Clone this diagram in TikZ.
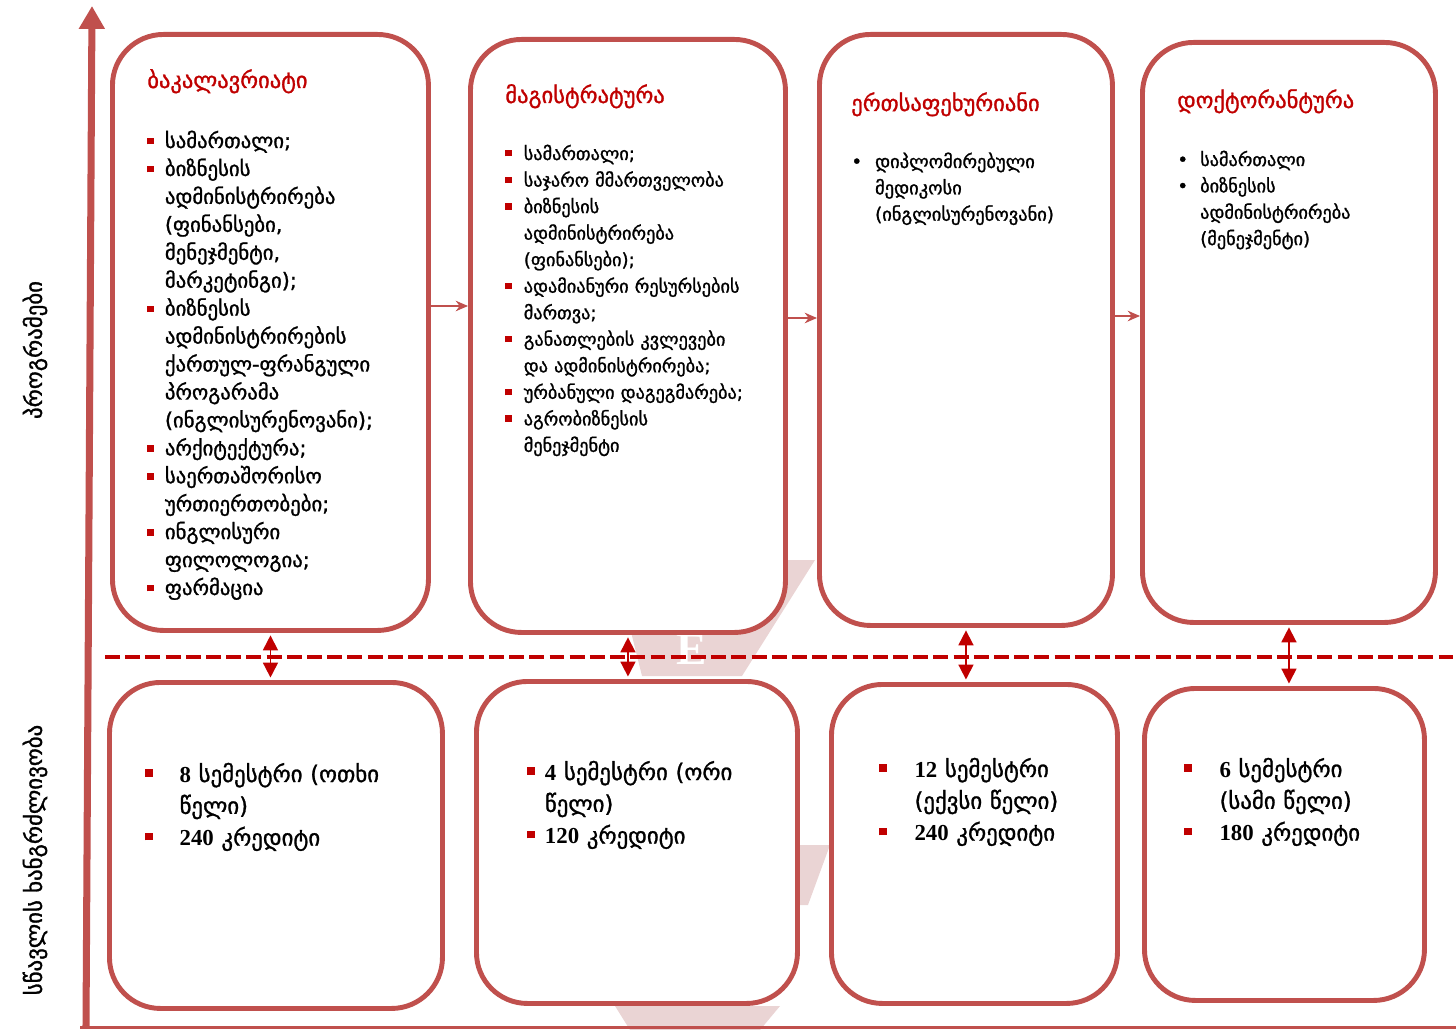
\documentclass[tikz,border=0pt]{standalone}
\usepackage{fontspec}
\setmainfont{DejaVu Sans}
\newfontfamily\itemfont{DejaVu Sans}[FakeBold=1.2]
\newfontfamily\numfont{Liberation Serif}
\usepackage{tikz}
\usetikzlibrary{arrows.meta}
\definecolor{boxred}{HTML}{C0504D}
\definecolor{darkred}{HTML}{C00000}
\definecolor{markpink}{HTML}{EAD4D4}
\newlength\px \setlength\px{0.02cm}
% bullets and hanging indent
\newcommand\sqb[1]{\makebox[#1][l]{\textcolor{darkred}{\rule[2pt]{3.6pt}{3.6pt}}}}
\newcommand\bigsqb[1]{\makebox[#1][l]{\textcolor{darkred}{\rule[3pt]{4.2pt}{4.2pt}}}}
\newcommand\dtb[1]{\makebox[#1][l]{\textbullet}}
\newcommand\ind[1]{\hspace*{#1}}
\newcommand\num[1]{{\numfont\bfseries #1}}

\begin{document}
\begin{tikzpicture}[x=0.02cm, y=-0.02cm,
  progbox/.style={draw=boxred, line width=2.8pt, rounded corners=29pt, fill=white,
    anchor=north west, inner sep=0pt},
  boxtitle/.style={anchor=base west, inner sep=0pt, text=darkred,
    font=\itemfont\fontsize{12.8}{15}\selectfont},
  itemlist/.style={anchor=base west, inner sep=0pt, align=left, text width=260pt},
  sidelabel/.style={rotate=90, inner sep=0pt, font=\itemfont\fontsize{13}{15}\selectfont},
  steparrow/.style={draw=boxred, line width=1pt, -{Stealth[length=7pt,width=6pt]}},
  durarrow/.style={draw=darkred, line width=1pt,
    {Triangle[length=8.5pt,width=8.5pt]}-{Triangle[length=8.5pt,width=8.5pt]},
    shorten <=1.4pt, shorten >=1.4pt},
  divline/.style={draw=darkred, line width=2.3pt, dash pattern=on 8.5pt off 3pt},
  axisline/.style={draw=boxred, line width=4pt},
]
\useasboundingbox (0,0) rectangle (1456,1030);

% watermark behind the boxes
\fill[markpink] (613,560) -- (815,560) -- (742,676) -- (642,676) -- cycle;
\fill[markpink] (797,845) -- (830,845) -- (808,905) -- (797,905) -- cycle;
\fill[markpink] (615,1006) -- (780,1006) -- (760,1030) -- (630,1030) -- cycle;
\node[text=white, font=\numfont\bfseries\fontsize{26}{26}\selectfont] (wmark) at (692,650) {E};

% axes
\draw[axisline, -{Triangle[length=13pt,width=14pt]}] (86,1027) -- (92,6);
\draw[boxred, line width=1.7pt] (80,1027) -- (1456,1027);

% programme boxes
\node[progbox, minimum width=316\px, minimum height=596\px] (t1) at (110,32) {};
\node[progbox, minimum width=315\px, minimum height=593\px] (t2) at (468,37) {};
\node[progbox, minimum width=293\px, minimum height=591\px] (t3) at (817,32) {};
\node[progbox, minimum width=293\px, minimum height=580\px] (t4) at (1140,40) {};

% duration boxes
\node[progbox, minimum width=333\px, minimum height=326\px] (b1) at (107,680) {};
\node[progbox, minimum width=321\px, minimum height=322\px] (b2) at (474,679) {};
\node[progbox, minimum width=286\px, minimum height=319\px] (b3) at (829,682) {};
\node[progbox, minimum width=280\px, minimum height=312\px] (b4) at (1142,686) {};

\draw[divline] (105,657) -- (1456,657);

% side labels
\node[sidelabel] (lprog) at (35,350) {პროგრამები};
\node[sidelabel] (ldur) at (35,860) {სწავლის ხანგრძლივობა};

% titles
\node[boxtitle] (h1) at (147,88) {ბაკალავრიატი};
\node[boxtitle] (h2) at (505,103) {მაგისტრატურა};
\node[boxtitle] (h3) at (851,111) {ერთსაფეხურიანი};
\node[boxtitle] (h4) at (1177,108) {დოქტორანტურა};

% programme lists
\node[itemlist, font=\itemfont\fontsize{11.8}{15.9}\selectfont] (l1) at (147,148) {%
\sqb{10pt}სამართალი;\\
\sqb{10pt}ბიზნესის\\
\ind{10pt}ადმინისტრირება\\
\ind{10pt}(ფინანსები,\\
\ind{10pt}მენეჯმენტი,\\
\ind{10pt}მარკეტინგი);\\
\sqb{10pt}ბიზნესის\\
\ind{10pt}ადმინისტრირების\\
\ind{10pt}ქართულ-ფრანგული\\
\ind{10pt}პროგარამა\\
\ind{10pt}(ინგლისურენოვანი);\\
\sqb{10pt}არქიტექტურა;\\
\sqb{10pt}საერთაშორისო\\
\ind{10pt}ურთიერთობები;\\
\sqb{10pt}ინგლისური\\
\ind{10pt}ფილოლოგია;\\
\sqb{10pt}ფარმაცია};
\node[itemlist, font=\itemfont\fontsize{10.4}{15.1}\selectfont] (l2) at (505,160) {%
\sqb{10.5pt}სამართალი;\\
\sqb{10.5pt}საჯარო მმართველობა\\
\sqb{10.5pt}ბიზნესის\\
\ind{10.5pt}ადმინისტრირება\\
\ind{10.5pt}(ფინანსები);\\
\sqb{10.5pt}ადამიანური რესურსების\\
\ind{10.5pt}მართვა;\\
\sqb{10.5pt}განათლების კვლევები\\
\ind{10.5pt}და ადმინისტრირება;\\
\sqb{10.5pt}ურბანული დაგეგმარება;\\
\sqb{10.5pt}აგრობიზნესის\\
\ind{10.5pt}მენეჯმენტი};
\node[itemlist, font=\itemfont\fontsize{10.5}{15}\selectfont] (l3) at (851,168) {%
\dtb{13.5pt}დიპლომირებული\\
\ind{13.5pt}მედიკოსი\\
\ind{13.5pt}(ინგლისურენოვანი)};
\node[itemlist, font=\itemfont\fontsize{10.4}{15}\selectfont] (l4) at (1177,166) {%
\dtb{13pt}სამართალი\\
\dtb{13pt}ბიზნესის\\
\ind{13pt}ადმინისტრირება\\
\ind{13pt}(მენეჯმენტი)};

% duration lists
\node[itemlist, font=\itemfont\fontsize{13}{18.1}\selectfont] (d1) at (145,782) {%
\bigsqb{19.5pt}\num{8} სემესტრი (ოთხი\\
\ind{19.5pt}წელი)\\
\bigsqb{19.5pt}\num{240} კრედიტი};
\node[itemlist, font=\itemfont\fontsize{13}{18.1}\selectfont] (d2) at (527,780) {%
\bigsqb{10pt}\num{4} სემესტრი (ორი\\
\ind{10pt}წელი)\\
\bigsqb{10pt}\num{120} კრედიტი};
\node[itemlist, font=\itemfont\fontsize{13}{18.1}\selectfont] (d3) at (879,777) {%
\bigsqb{20pt}\num{12} სემესტრი\\
\ind{20pt}(ექვსი წელი)\\
\bigsqb{20pt}\num{240} კრედიტი};
\node[itemlist, font=\itemfont\fontsize{13}{18.1}\selectfont] (d4) at (1184,777) {%
\bigsqb{20pt}\num{6} სემესტრი\\
\ind{20pt}(სამი წელი)\\
\bigsqb{20pt}\num{180} კრედიტი};

% arrows between programmes
\draw[steparrow] (t1.east |- 0,306) -- (t2.west |- 0,306);
\draw[steparrow] (t2.east |- 0,318) -- (t3.west |- 0,318);
\draw[steparrow] (t3.east |- 0,316) -- (t4.west |- 0,316);

% arrows to durations
\draw[durarrow] (t1.south) -- (t1.south |- b1.north);
\draw[durarrow] (t2.south) -- (t2.south |- b2.north);
\draw[durarrow] (t3.south) -- (t3.south |- b3.north);
\draw[durarrow] (t4.south) -- (t4.south |- b4.north);
\end{tikzpicture}
\end{document}
